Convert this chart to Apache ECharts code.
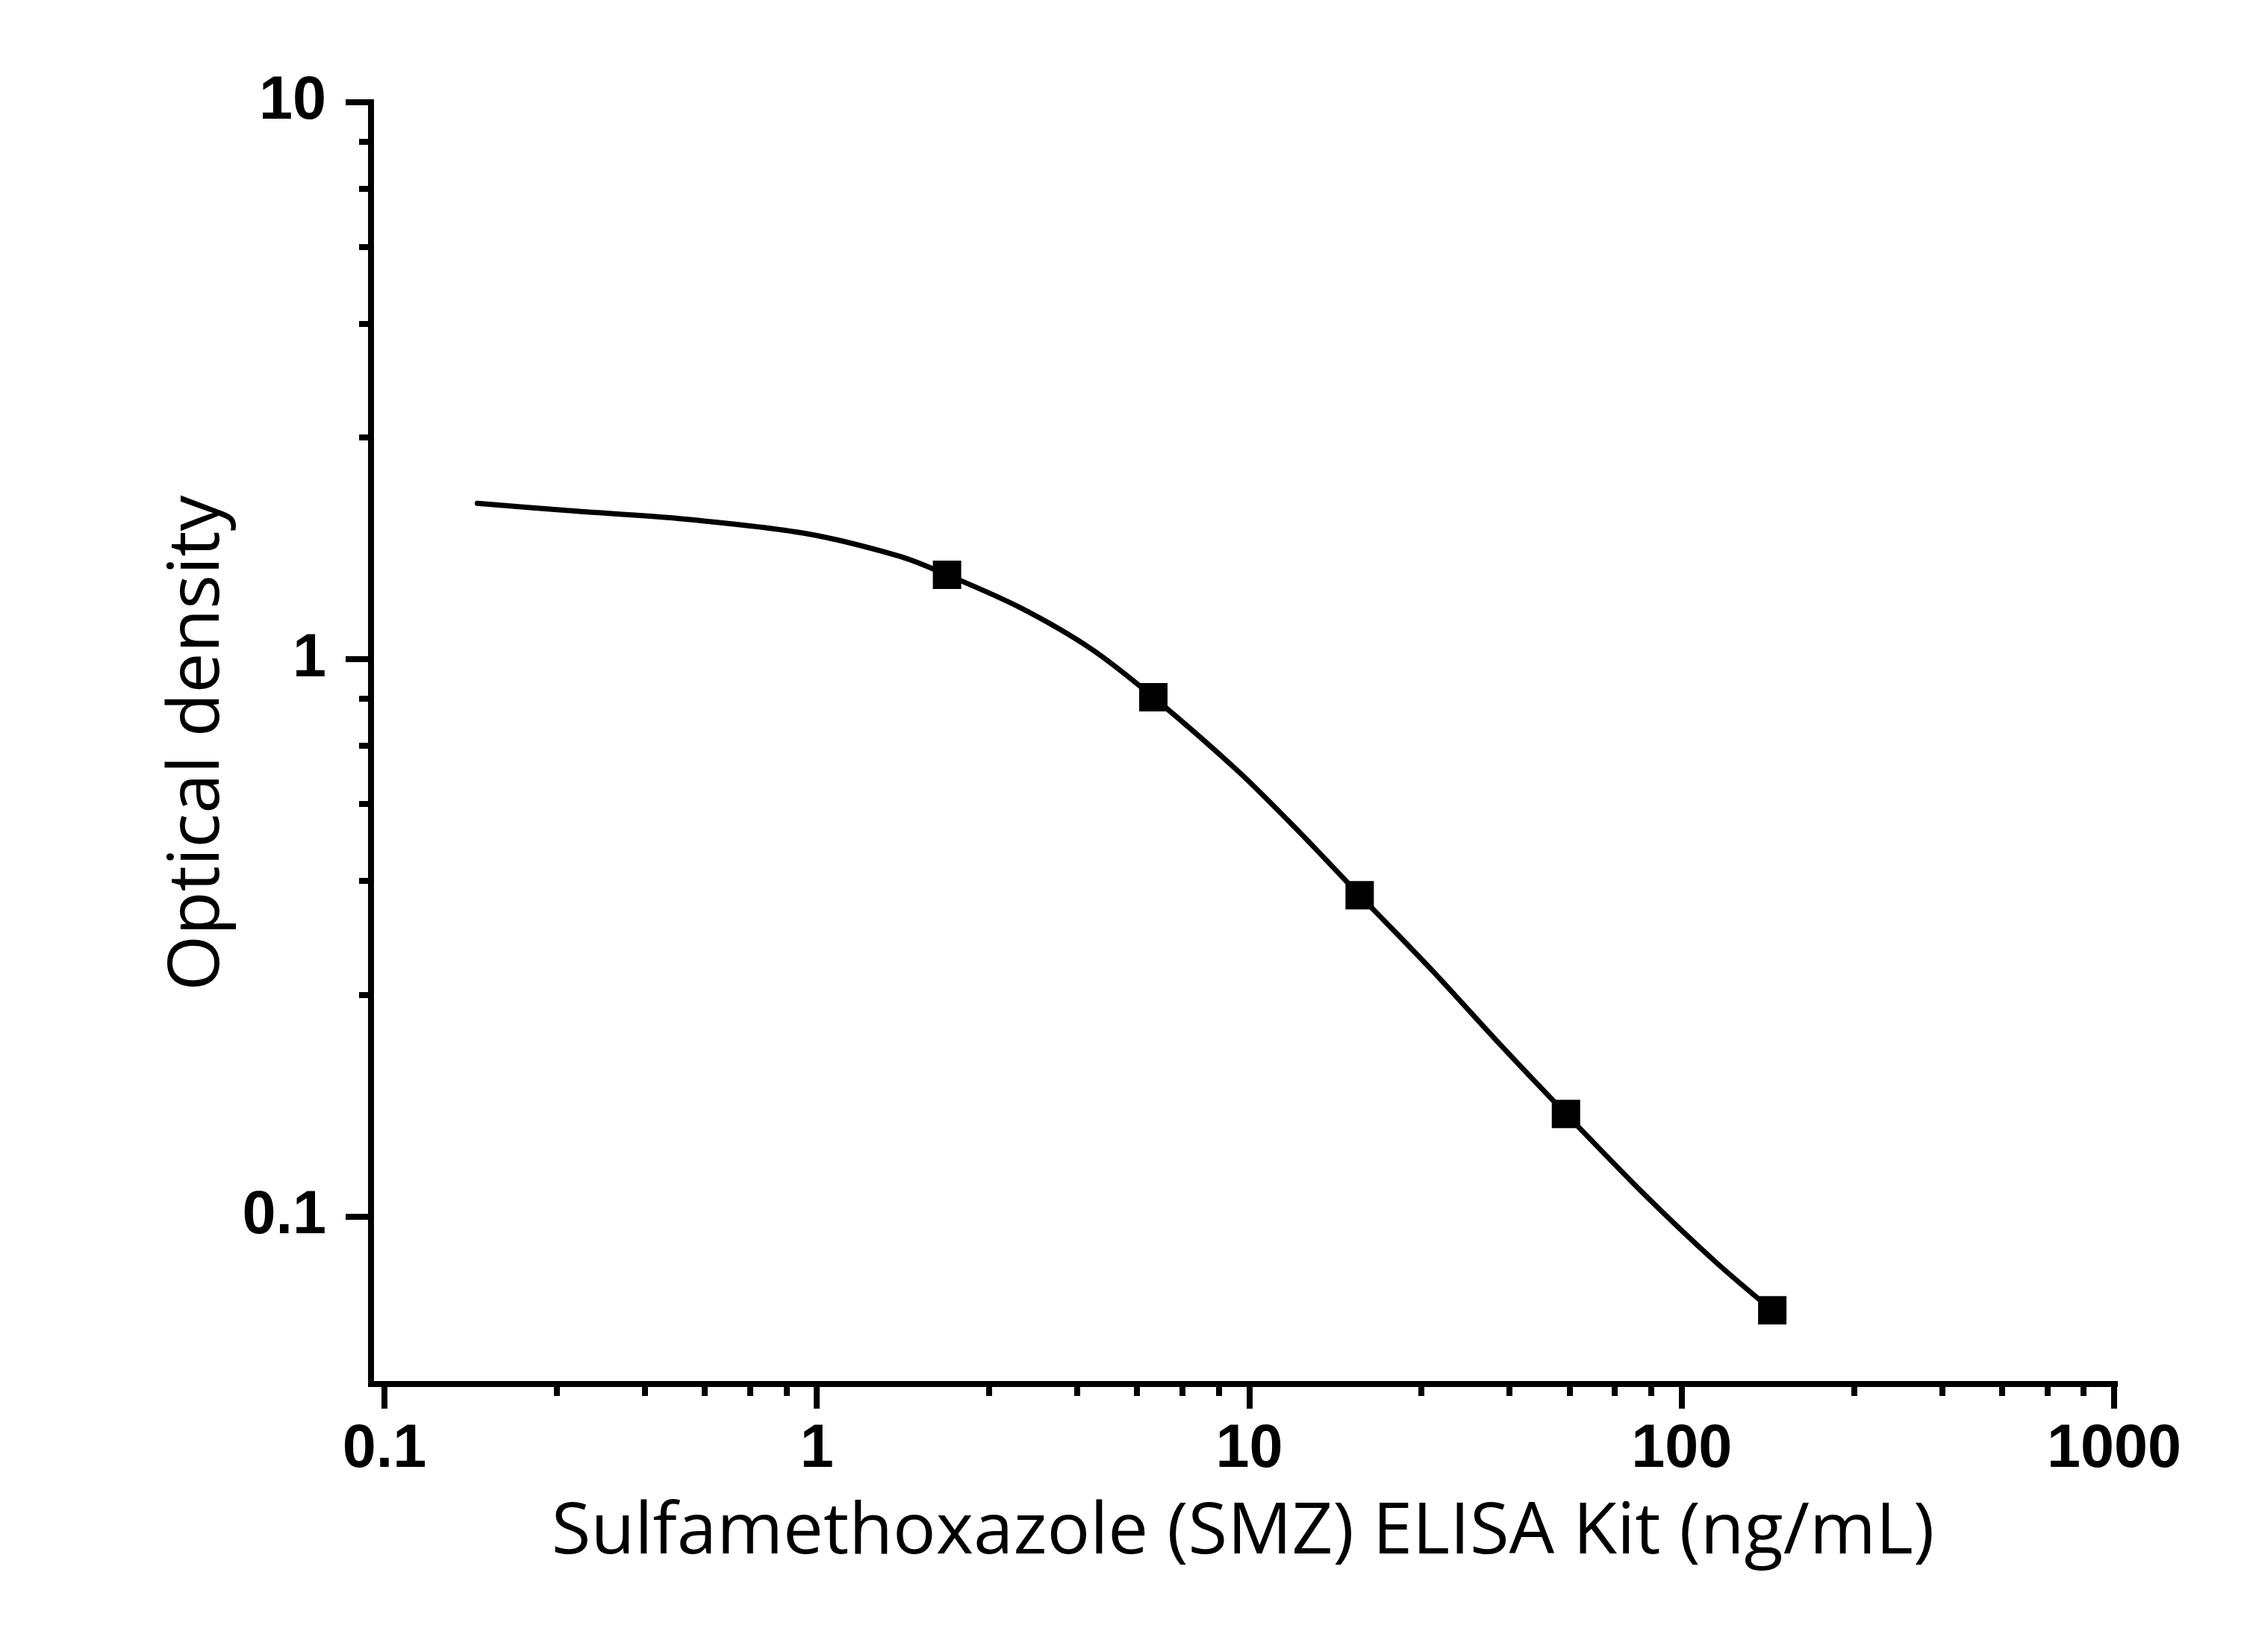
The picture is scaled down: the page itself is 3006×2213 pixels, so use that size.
<!DOCTYPE html>
<html>
<head>
<meta charset="utf-8">
<script src="https://cdn.jsdelivr.net/npm/echarts@6/dist/echarts.min.js"></script>
<style>
html,body{margin:0;padding:0;background:#fff;}
#chart{width:3006px;height:2213px;}
</style>
</head>
<body>
<div id="chart"></div>
<script>
// Standard points (concentration ng/mL, optical density)
const pointConc = [2, 6, 18, 54, 162];
const pointOD = [1.418, 0.855, 0.377, 0.1527, 0.0678];

// Fitted curve
const curveConc = [0.164, 0.264, 0.498, 0.939, 1.558, 2, 2.94, 4.30, 6, 9.46, 13.15, 18, 26.06, 38.13, 54, 81.5, 119.4, 162];
const curveOD = [1.905, 1.850, 1.785, 1.683, 1.530, 1.418, 1.240, 1.045, 0.855, 0.628, 0.487, 0.377, 0.280, 0.203, 0.1527, 0.1100, 0.0830, 0.0678];

// Axis ticks
const xMajorTicks = [0.1, 1, 10, 100, 1000];
const xMinorTicks = [0.25, 0.4, 0.55, 0.7, 0.85, 2.5, 4, 5.5, 7, 8.5, 25, 40, 55, 70, 85, 250, 400, 550, 700, 850];
const yMajorTicks = [0.1, 1, 10];
const yMinorTicks = [0.25, 0.4, 0.55, 0.7, 0.85, 2.5, 4, 5.5, 7, 8.5];

const xRange = [0.0931, 1004];
const yRange = [0.05, 10];

const xTitle = 'Sulfamethoxazole (SMZ) ELISA Kit (ng/mL)';
const yTitle = 'Optical density';

const chart = echarts.init(document.getElementById('chart'));
const fmt = v => String(parseFloat(Number(v).toPrecision(6)));
const labelFont = {fontFamily: 'Liberation Sans', fontWeight: 'bold', fontSize: 81, color: '#000'};
const titleFont = {fontFamily: 'Open Sans', fontWeight: 'normal', fontSize: 96, color: '#000'};

chart.setOption({
  animation: false,
  backgroundColor: '#fff',
  grid: {left: 497, right: 173, top: 137, bottom: 359, containLabel: false},
  xAxis: [
    {
      type: 'log', min: xRange[0], max: xRange[1], position: 'bottom',
      name: xTitle, nameLocation: 'middle', nameGap: 152, nameTextStyle: titleFont,
      axisLine: {show: true, lineStyle: {color: '#000', width: 8, cap: 'square'}},
      axisTick: {show: true, customValues: xMajorTicks, length: 33, lineStyle: {color: '#000', width: 8}},
      axisLabel: Object.assign({show: true, customValues: xMajorTicks, margin: 48, formatter: fmt}, labelFont),
      splitLine: {show: false}, minorTick: {show: false}
    },
    {
      type: 'log', min: xRange[0], max: xRange[1], position: 'bottom',
      axisLine: {show: false},
      axisTick: {show: true, customValues: xMinorTicks, length: 16, lineStyle: {color: '#000', width: 8}},
      axisLabel: {show: false},
      splitLine: {show: false}
    }
  ],
  yAxis: [
    {
      type: 'log', min: yRange[0], max: yRange[1], position: 'left',
      name: yTitle, nameLocation: 'middle', nameGap: 178, nameTextStyle: titleFont,
      axisLine: {show: true, lineStyle: {color: '#000', width: 8, cap: 'square'}},
      axisTick: {show: true, customValues: yMajorTicks, length: 34, lineStyle: {color: '#000', width: 8}},
      axisLabel: Object.assign({show: true, customValues: yMajorTicks, margin: 60, formatter: fmt, padding: [0, 0, 20, 0]}, labelFont),
      splitLine: {show: false}
    },
    {
      type: 'log', min: yRange[0], max: yRange[1], position: 'left',
      axisLine: {show: false},
      axisTick: {show: true, customValues: yMinorTicks, length: 16, lineStyle: {color: '#000', width: 8}},
      axisLabel: {show: false},
      splitLine: {show: false}
    }
  ],
  series: [
    {
      type: 'line', xAxisIndex: 0, yAxisIndex: 0,
      data: curveConc.map((c, i) => [c, curveOD[i]]),
      smooth: 0.3, showSymbol: false, symbol: 'none',
      lineStyle: {color: '#000', width: 7, cap: 'round'},
      z: 2
    },
    {
      type: 'scatter', xAxisIndex: 0, yAxisIndex: 0,
      data: pointConc.map((c, i) => [c, pointOD[i]]),
      symbol: 'rect', symbolSize: 38,
      itemStyle: {color: '#000', opacity: 1},
      z: 3
    }
  ]
});
</script>
</body>
</html>
